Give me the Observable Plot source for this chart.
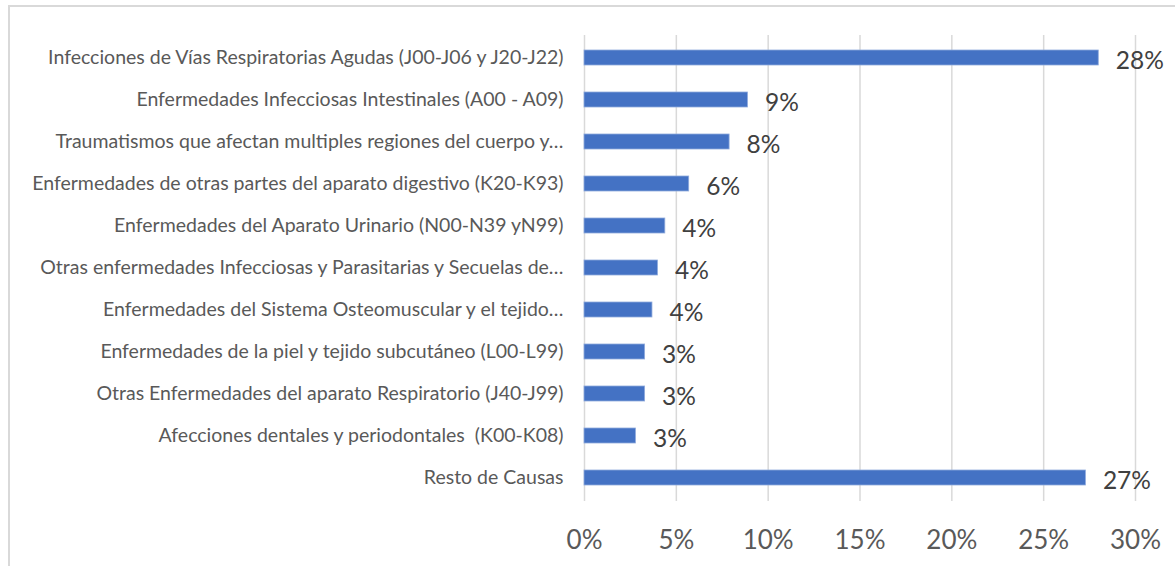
<!DOCTYPE html>
<html>
<head>
<meta charset="utf-8">
<script src="https://cdn.jsdelivr.net/npm/d3@7"></script>
<script src="https://cdn.jsdelivr.net/npm/@observablehq/plot@0.6"></script>
<style>
  html, body { margin: 0; padding: 0; background: #fff; }
  #wrap { position: relative; width: 1175px; height: 566px; overflow: hidden; }
  #frame { position: absolute; left: 8px; top: 5px; width: 1200px; height: 600px;
           border-left: 2px solid #d9d9d9; border-top: 2px solid #d9d9d9; box-sizing: border-box; pointer-events: none; }
  svg { font-family: Lato, "Open Sans", sans-serif; }
</style>
</head>
<body>
<div id="wrap"><div id="frame"></div></div>
<script>
const categories = [
  "Infecciones de Vías Respiratorias Agudas (J00-J06 y J20-J22)",
  "Enfermedades Infecciosas Intestinales (A00 - A09)",
  "Traumatismos que afectan multiples regiones del cuerpo y…",
  "Enfermedades de otras partes del aparato digestivo (K20-K93)",
  "Enfermedades del Aparato Urinario (N00-N39 yN99)",
  "Otras enfermedades Infecciosas y Parasitarias y Secuelas de…",
  "Enfermedades del Sistema Osteomuscular y el tejido…",
  "Enfermedades de la piel y tejido subcutáneo (L00-L99)",
  "Otras Enfermedades del aparato Respiratorio (J40-J99)",
  "Afecciones dentales y periodontales  (K00-K08)",
  "Resto de Causas"
];
const values = [0.280, 0.089, 0.079, 0.057, 0.044, 0.040, 0.037, 0.033, 0.033, 0.028, 0.273];
const valueLabels = ["28%", "9%", "8%", "6%", "4%", "4%", "4%", "3%", "3%", "3%", "27%"];
const xTicks = [0, 0.05, 0.10, 0.15, 0.20, 0.25, 0.30];
const xTickLabels = ["0%", "5%", "10%", "15%", "20%", "25%", "30%"];

const data = categories.map((c, i) => ({cat: c, v: values[i], label: valueLabels[i]}));

const chart = Plot.plot({
  width: 1175,
  height: 566,
  marginLeft: 584,
  marginRight: 40,
  marginTop: 35,
  marginBottom: 65,
  style: {fontFamily: "Lato, 'Open Sans', sans-serif", background: "transparent", overflow: "visible"},
  x: {domain: [0, 0.30], ticks: xTicks, label: null},
  y: {domain: categories, paddingInner: 0.64, paddingOuter: 0.32, label: null},
  marks: [
    Plot.gridX(xTicks, {stroke: "#d9d9d9", strokeOpacity: 1, strokeWidth: 1.5}),
    Plot.barX(data, {y: "cat", x: "v", fill: "#4472c4", stroke: "#8faadc", strokeWidth: 0.8}),
    Plot.text(data, {y: "cat", x: "v", text: "label", textAnchor: "start", dx: 17, dy: 3, fontSize: 24.5, fill: "#404040"}),
    Plot.axisX(xTicks, {tickSize: 0, tickPadding: 29, fontSize: 26, fill: "#595959", tickFormat: (d) => xTickLabels[xTicks.indexOf(d)]}),
    Plot.axisY({tickSize: 0, tickPadding: 21, fontSize: 19.5, fill: "#595959"})
  ]
});
document.getElementById("wrap").prepend(chart);
</script>
</body>
</html>
